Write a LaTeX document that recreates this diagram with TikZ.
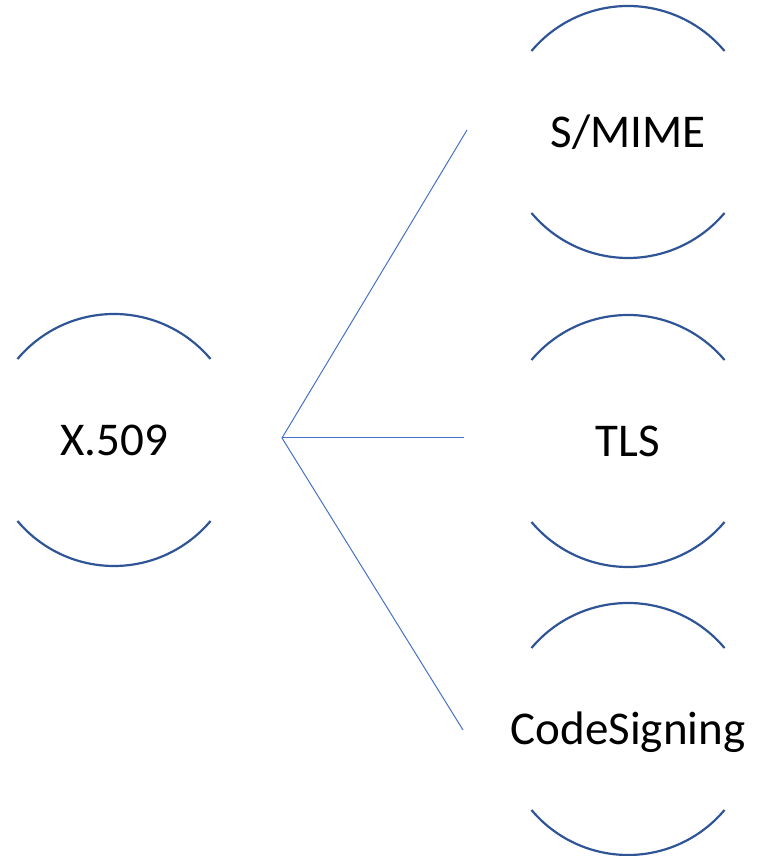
\documentclass[tikz,border=0pt]{standalone}
\usepackage{fontspec}
\setmainfont{Carlito}
\definecolor{arcblue}{RGB}{47,85,151}
\definecolor{linkblue}{RGB}{68,114,196}
\begin{document}
\begin{tikzpicture}[x=1pt,y=1pt,
  item/.style={circle, minimum size=252pt, inner sep=0pt, outer sep=0pt,
    font=\fontsize{47}{47}\selectfont, text height=30.3pt, text depth=0pt},
  arcline/.style={draw=arcblue, line width=2.2pt},
  link/.style={draw=linkblue, line width=1pt}]
\useasboundingbox (0,0) rectangle (757,856);
\node[item] (x509) at (114,416) {X.509};
\node[item] (smime) at (628,724) {S/MIME};
\node[item] (tls) at (628,415) {TLS};
\node[item] (code) at (628,127) {CodeSigning};
\foreach \n in {x509,smime,tls,code}{
  \draw[arcline] (\n.140) arc[start angle=140, end angle=40, radius=126pt];
  \draw[arcline] (\n.220) arc[start angle=220, end angle=320, radius=126pt];
}
\coordinate (hub) at (282,418);
\coordinate (e1) at (467,726);
\coordinate (e2) at (464,418);
\coordinate (e3) at (463,126);
\draw[link] (hub) -- (e1);
\draw[link] (hub) -- (e2);
\draw[link] (hub) -- (e3);
\end{tikzpicture}
\end{document}
